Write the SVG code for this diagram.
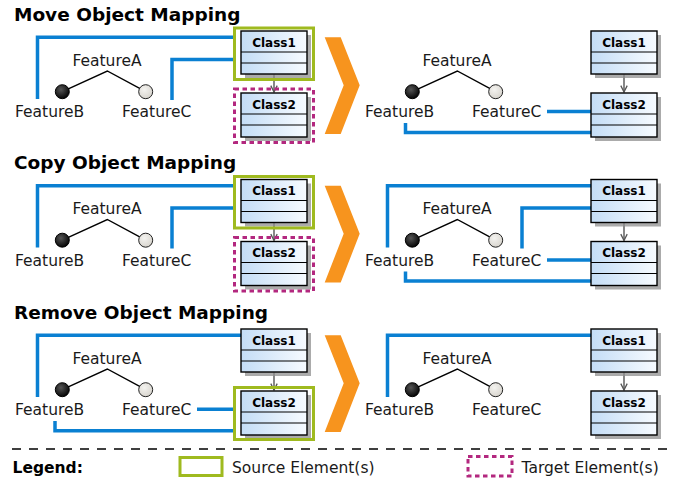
<svg xmlns="http://www.w3.org/2000/svg" xmlns:xlink="http://www.w3.org/1999/xlink" width="683" height="483" viewBox="0 0 683 483">
  <style>
    .title { font-family: "DejaVu Sans", "Liberation Sans", sans-serif; font-weight: bold; font-size: 18.5px; fill: #000; }
    .label { font-family: "DejaVu Sans", "Liberation Sans", sans-serif; font-size: 15.5px; fill: #1a1a1a; }
    .cls { font-family: "DejaVu Sans", "Liberation Sans", sans-serif; font-weight: bold; font-size: 12px; fill: #000; text-anchor: middle; }
    .map { fill: none; stroke: #0a80d2; stroke-width: 3.5; stroke-linejoin: miter; }
    .tree { fill: none; stroke: #000; stroke-width: 1.4; }
    .assoc { fill: none; stroke: #555; stroke-width: 1.4; marker-end: url(#arrow); }
    .box { fill: url(#classFill); stroke: #000; stroke-width: 1.4; }
    .row { stroke: #000; stroke-width: 1.2; }
    .shadow { fill: #8f8f8f; opacity: 0.75; }
    .src { fill: none; stroke: #9fba1f; stroke-width: 3; }
    .tgt { fill: none; stroke: #b3287f; stroke-width: 3; stroke-dasharray: 4.5 3.5; }
    .chev { fill: #f7941e; }
    .sep { stroke: #000; stroke-width: 1.6; stroke-dasharray: 9 8; }
  </style>
  <defs>
    <linearGradient id="classFill" x1="0" y1="0" x2="1" y2="0">
      <stop offset="0" stop-color="#c4ddf6"/>
      <stop offset="1" stop-color="#f7fbff"/>
    </linearGradient>
    <radialGradient id="darkBall" cx="0.4" cy="0.35" r="0.7">
      <stop offset="0" stop-color="#555"/>
      <stop offset="1" stop-color="#000"/>
    </radialGradient>
    <radialGradient id="lightBall" cx="0.4" cy="0.35" r="0.7">
      <stop offset="0" stop-color="#f4f3f0"/>
      <stop offset="1" stop-color="#d6d3cc"/>
    </radialGradient>
    <marker id="arrow" viewBox="0 0 10 10" refX="9" refY="5" markerWidth="8" markerHeight="8" markerUnits="userSpaceOnUse" orient="auto">
      <path d="M1,1 L9,5 L1,9" fill="none" stroke="#555" stroke-width="1.6"/>
    </marker>
    <!-- class box: shadow, body, compartments -->
    <g id="classBox1">
      <rect class="shadow" x="4" y="4" width="66" height="43"/>
      <rect class="box" x="0" y="0" width="66" height="43"/>
      <line class="row" x1="0" y1="21" x2="66" y2="21"/>
      <line class="row" x1="0" y1="32" x2="66" y2="32"/>
    </g>
    <g id="classBox2">
      <rect class="shadow" x="4" y="4" width="66" height="44"/>
      <rect class="box" x="0" y="0" width="66" height="44"/>
      <line class="row" x1="0" y1="21" x2="66" y2="21"/>
      <line class="row" x1="0" y1="32" x2="66" y2="32"/>
    </g>
    <path id="chevron" d="M324.7,37.3 H340.7 L359.7,85.3 L340.7,134 H324.7 L343.7,85.3 Z"/>
  </defs>

  <!-- connectors: feature-tree edges, associations and mappings -->
  <g id="connectors">
    <g id="move-connectors">
      <path class="tree" d="M62.3,91.7 L107.3,71 L145.7,91.7"/>
      <path class="tree" d="M412.3,91.7 L457.3,71 L495.7,91.7"/>
      <line class="assoc" x1="274" y1="74.5" x2="274" y2="92"/>
      <line class="assoc" x1="624" y1="74.5" x2="624" y2="92"/>
      <path class="map" d="M37.5,99 V37.3 H233"/>
      <path class="map" d="M172,100 V59.5 H233"/>
      <path class="map" d="M547,111.5 H591"/>
      <path class="map" d="M405.5,123 V132.5 H591"/>
    </g>
    <g id="copy-connectors" transform="translate(0,148.5)">
      <path class="tree" d="M62.3,91.7 L107.3,71 L145.7,91.7"/>
      <path class="tree" d="M412.3,91.7 L457.3,71 L495.7,91.7"/>
      <line class="assoc" x1="274" y1="74.5" x2="274" y2="92"/>
      <line class="assoc" x1="624" y1="74.5" x2="624" y2="92"/>
      <path class="map" d="M37.5,99 V37.3 H233"/>
      <path class="map" d="M172,100 V59.5 H233"/>
      <path class="map" d="M387.5,99 V37.3 H591"/>
      <path class="map" d="M522,100 V59.5 H591"/>
      <path class="map" d="M547,111.5 H591"/>
      <path class="map" d="M405.5,123 V132.5 H591"/>
    </g>
    <g id="remove-connectors" transform="translate(0,298)">
      <path class="tree" d="M62.3,91.7 L107.3,71 L145.7,91.7"/>
      <path class="tree" d="M412.3,91.7 L457.3,71 L495.7,91.7"/>
      <line class="assoc" x1="274" y1="74.5" x2="274" y2="92"/>
      <line class="assoc" x1="624" y1="74.5" x2="624" y2="92"/>
      <path class="map" d="M37.5,99 V37.3 H241"/>
      <path class="map" d="M197,111.3 H233"/>
      <path class="map" d="M55,123 V132.8 H233"/>
      <path class="map" d="M387.5,99 V37.3 H591"/>
    </g>
  </g>

  <!-- Move Object Mapping -->
  <g id="move">
    <text id="move-title" class="title" x="14" y="20.5">Move Object Mapping</text>
    <g id="move-l-featureA"><text class="label" x="107" y="65.5" text-anchor="middle">FeatureA</text></g>
    <g id="move-l-featureB"><circle cx="62.3" cy="91.7" r="7" fill="url(#darkBall)" stroke="#000" stroke-width="1"/><text class="label" x="15" y="117">FeatureB</text></g>
    <g id="move-l-featureC"><circle cx="145.7" cy="91.7" r="7" fill="url(#lightBall)" stroke="#222" stroke-width="1"/><text class="label" x="122" y="117">FeatureC</text></g>
    <g id="move-l-class1" transform="translate(241,31)"><use xlink:href="#classBox1"/><text class="cls" x="33" y="15.7">Class1</text></g>
    <g id="move-l-class2" transform="translate(241,93)"><use xlink:href="#classBox2"/><text class="cls" x="33" y="15.7">Class2</text></g>
    <rect id="move-source" class="src" x="234.5" y="28" width="79" height="51.5"/>
    <rect id="move-target" class="tgt" x="234.5" y="89" width="79" height="53.5"/>
    <use id="move-arrow" class="chev" xlink:href="#chevron"/>
    <g id="move-r-featureA"><text class="label" x="457" y="65.5" text-anchor="middle">FeatureA</text></g>
    <g id="move-r-featureB"><circle cx="412.3" cy="91.7" r="7" fill="url(#darkBall)" stroke="#000" stroke-width="1"/><text class="label" x="365" y="117">FeatureB</text></g>
    <g id="move-r-featureC"><circle cx="495.7" cy="91.7" r="7" fill="url(#lightBall)" stroke="#222" stroke-width="1"/><text class="label" x="472" y="117">FeatureC</text></g>
    <g id="move-r-class1" transform="translate(591,31)"><use xlink:href="#classBox1"/><text class="cls" x="33" y="15.7">Class1</text></g>
    <g id="move-r-class2" transform="translate(591,93)"><use xlink:href="#classBox2"/><text class="cls" x="33" y="15.7">Class2</text></g>
  </g>

  <!-- Copy Object Mapping -->
  <g id="copy" transform="translate(0,148.5)">
    <text id="copy-title" class="title" x="14" y="20.5">Copy Object Mapping</text>
    <g id="copy-l-featureA"><text class="label" x="107" y="65.5" text-anchor="middle">FeatureA</text></g>
    <g id="copy-l-featureB"><circle cx="62.3" cy="91.7" r="7" fill="url(#darkBall)" stroke="#000" stroke-width="1"/><text class="label" x="15" y="117">FeatureB</text></g>
    <g id="copy-l-featureC"><circle cx="145.7" cy="91.7" r="7" fill="url(#lightBall)" stroke="#222" stroke-width="1"/><text class="label" x="122" y="117">FeatureC</text></g>
    <g id="copy-l-class1" transform="translate(241,31)"><use xlink:href="#classBox1"/><text class="cls" x="33" y="15.7">Class1</text></g>
    <g id="copy-l-class2" transform="translate(241,93)"><use xlink:href="#classBox2"/><text class="cls" x="33" y="15.7">Class2</text></g>
    <rect id="copy-source" class="src" x="234.5" y="28" width="79" height="51.5"/>
    <rect id="copy-target" class="tgt" x="234.5" y="89" width="79" height="53.5"/>
    <use id="copy-arrow" class="chev" xlink:href="#chevron"/>
    <g id="copy-r-featureA"><text class="label" x="457" y="65.5" text-anchor="middle">FeatureA</text></g>
    <g id="copy-r-featureB"><circle cx="412.3" cy="91.7" r="7" fill="url(#darkBall)" stroke="#000" stroke-width="1"/><text class="label" x="365" y="117">FeatureB</text></g>
    <g id="copy-r-featureC"><circle cx="495.7" cy="91.7" r="7" fill="url(#lightBall)" stroke="#222" stroke-width="1"/><text class="label" x="472" y="117">FeatureC</text></g>
    <g id="copy-r-class1" transform="translate(591,31)"><use xlink:href="#classBox1"/><text class="cls" x="33" y="15.7">Class1</text></g>
    <g id="copy-r-class2" transform="translate(591,93)"><use xlink:href="#classBox2"/><text class="cls" x="33" y="15.7">Class2</text></g>
  </g>

  <!-- Remove Object Mapping -->
  <g id="remove" transform="translate(0,298)">
    <text id="remove-title" class="title" x="14" y="20.5">Remove Object Mapping</text>
    <g id="remove-l-featureA"><text class="label" x="107" y="65.5" text-anchor="middle">FeatureA</text></g>
    <g id="remove-l-featureB"><circle cx="62.3" cy="91.7" r="7" fill="url(#darkBall)" stroke="#000" stroke-width="1"/><text class="label" x="15" y="117">FeatureB</text></g>
    <g id="remove-l-featureC"><circle cx="145.7" cy="91.7" r="7" fill="url(#lightBall)" stroke="#222" stroke-width="1"/><text class="label" x="122" y="117">FeatureC</text></g>
    <g id="remove-l-class1" transform="translate(241,31)"><use xlink:href="#classBox1"/><text class="cls" x="33" y="15.7">Class1</text></g>
    <g id="remove-l-class2" transform="translate(241,93)"><use xlink:href="#classBox2"/><text class="cls" x="33" y="15.7">Class2</text></g>
    <rect id="remove-source" class="src" x="234.5" y="89.5" width="79" height="52"/>
    <use id="remove-arrow" class="chev" xlink:href="#chevron"/>
    <g id="remove-r-featureA"><text class="label" x="457" y="65.5" text-anchor="middle">FeatureA</text></g>
    <g id="remove-r-featureB"><circle cx="412.3" cy="91.7" r="7" fill="url(#darkBall)" stroke="#000" stroke-width="1"/><text class="label" x="365" y="117">FeatureB</text></g>
    <g id="remove-r-featureC"><circle cx="495.7" cy="91.7" r="7" fill="url(#lightBall)" stroke="#222" stroke-width="1"/><text class="label" x="472" y="117">FeatureC</text></g>
    <g id="remove-r-class1" transform="translate(591,31)"><use xlink:href="#classBox1"/><text class="cls" x="33" y="15.7">Class1</text></g>
    <g id="remove-r-class2" transform="translate(591,93)"><use xlink:href="#classBox2"/><text class="cls" x="33" y="15.7">Class2</text></g>
  </g>

  <!-- separator and legend -->
  <line id="separator" class="sep" x1="12" y1="449" x2="672" y2="449"/>
  <g id="legend">
    <text class="title" style="font-size:15.5px" x="12.5" y="473.3">Legend:</text>
    <g id="legend-source">
      <rect class="src" x="180" y="457.5" width="42" height="18"/>
      <text class="label" x="232" y="473.3">Source Element(s)</text>
    </g>
    <g id="legend-target">
      <rect class="tgt" x="468" y="456.5" width="44" height="19.5"/>
      <text class="label" x="521.5" y="473.3">Target Element(s)</text>
    </g>
  </g>
</svg>
